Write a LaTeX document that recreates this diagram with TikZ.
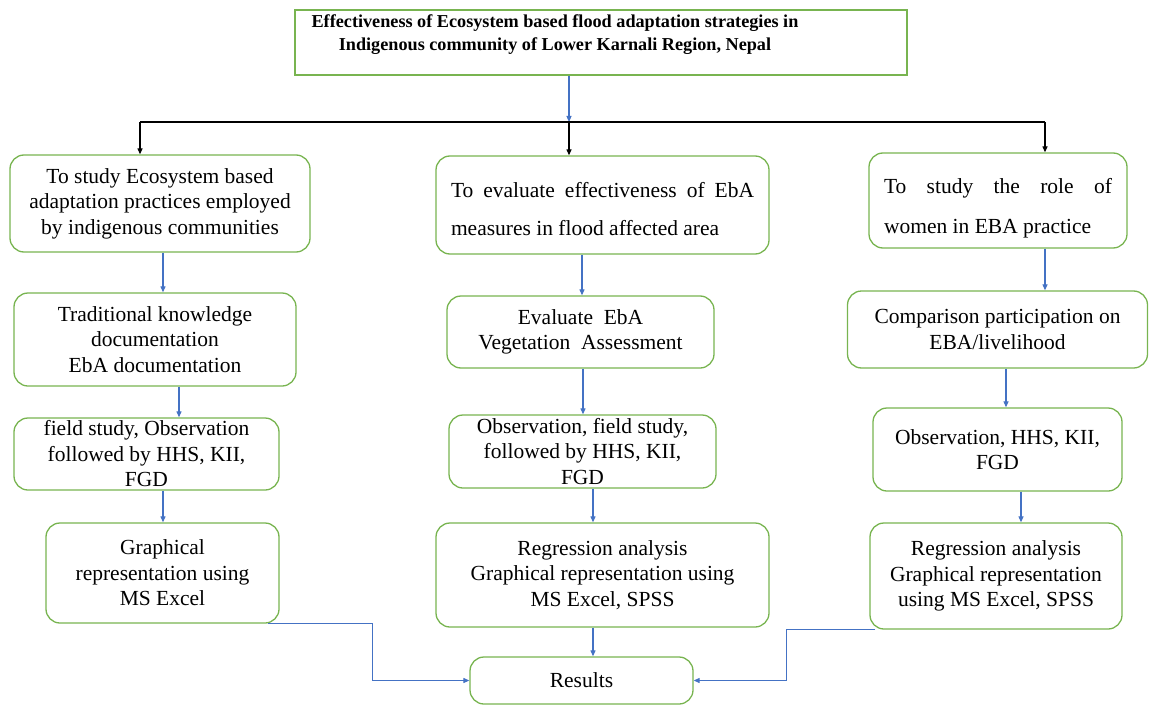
\documentclass[tikz,border=0pt]{standalone}
\usepackage{fontspec}
\setmainfont{Liberation Serif}
\usetikzlibrary{arrows.meta}

\definecolor{boxgreen}{RGB}{120,180,80}
\definecolor{flowblue}{RGB}{68,114,196}

\tikzset{
  stepbox/.style={draw=boxgreen, line width=1.3pt, rounded corners=14pt, inner sep=0pt,
    align=center, font=\fontsize{21.5}{25.5}\selectfont},
  flow/.style={draw=flowblue, line width=1.1pt, -{Triangle[length=6pt,width=5pt]}},
  bus/.style={draw=black, line width=1.2pt},
  busarrow/.style={bus, -{Triangle[length=6pt,width=5pt]}}
}

\begin{document}
\begin{tikzpicture}[x=1pt, y=-1pt]
\useasboundingbox (0,0) rectangle (1150,706);

% title
\node[draw=boxgreen, line width=1.3pt, inner sep=0pt, minimum width=612, minimum height=65] (title) at (601,42.5) {};
\node[align=center, inner sep=0pt, font=\bfseries\fontsize{18.2}{23}\selectfont] (titletext) at ([xshift=-46,yshift=7.5]title.center)
  {Effectiveness of Ecosystem based flood adaptation strategies in\\Indigenous community of Lower Karnali Region, Nepal};

% objectives
\node[stepbox, minimum width=300, minimum height=97] (l1) at (160,203.5)
  {To study Ecosystem based\\adaptation practices employed\\by indigenous communities};
\node[stepbox, minimum width=333, minimum height=98, align=left, font=\fontsize{21.5}{38}\selectfont] (m1) at (602.5,205)
  {\rule{0pt}{24pt}\makebox[303pt][s]{To evaluate effectiveness of EbA}\\measures in flood affected area};
\node[stepbox, minimum width=258, minimum height=95, align=left, font=\fontsize{21.5}{40}\selectfont] (r1) at (998,200.5)
  {\rule{0pt}{31pt}\makebox[228pt][s]{To study the role of}\\women in EBA practice};

% left column
\node[stepbox, minimum width=282, minimum height=93] (l2) at (155,339.5)
  {Traditional knowledge\\documentation\\EbA documentation};
\node[stepbox, minimum width=265, minimum height=72] (l3) at (146.5,454)
  {field study, Observation\\followed by HHS, KII,\\FGD};
\node[stepbox, minimum width=233, minimum height=100] (l4) at (162.5,573)
  {Graphical\\representation using\\MS Excel};

% middle column
\node[stepbox, minimum width=267, minimum height=72] (m2) at (580.5,332)
  {Evaluate\ \ EbA\\Vegetation\ \ Assessment};
\node[stepbox, minimum width=267, minimum height=73] (m3) at (582.5,451.5)
  {Observation, field study,\\followed by HHS, KII,\\FGD};
\node[stepbox, minimum width=333, minimum height=104] (m4) at (602.5,575)
  {Regression analysis\\Graphical representation using\\MS Excel, SPSS};
\node[stepbox, minimum width=223, minimum height=47] (res) at (581.5,680.5) {Results};

% right column
\node[stepbox, minimum width=300, minimum height=77] (r2) at (997.5,329.5)
  {Comparison participation on\\EBA/livelihood};
\node[stepbox, minimum width=249, minimum height=83] (r3) at (997.5,449.5)
  {Observation, HHS, KII,\\FGD};
\node[stepbox, minimum width=252, minimum height=106] (r4) at (996,576)
  {Regression analysis\\Graphical representation\\using MS Excel, SPSS};

% branching
\coordinate (hub) at (569,122);
\coordinate (hubl) at (140,122);
\coordinate (hubr) at (1045,122);
\draw[flow] ([xshift=-32]title.south) -- (hub);
\draw[bus] (hubl) -- (hubr);
\draw[busarrow] (hubl) -- (hubl |- l1.north);
\draw[busarrow] (hub) -- (hub |- m1.north);
\draw[busarrow] (hubr) -- (hubr |- r1.north);

% column arrows
\draw[flow] ([xshift=3]l1.south) -- ([xshift=3]l1.south |- l2.north);
\draw[flow] ([xshift=24]l2.south) -- ([xshift=24]l2.south |- l3.north);
\draw[flow] ([xshift=16.5]l3.south) -- ([xshift=16.5]l3.south |- l4.north);
\draw[flow] ([xshift=-20.5]m1.south) -- ([xshift=-20.5]m1.south |- m2.north);
\draw[flow] ([xshift=2.5]m2.south) -- ([xshift=2.5]m2.south |- m3.north);
\draw[flow] ([xshift=10.5]m3.south) -- ([xshift=10.5]m3.south |- m4.north);
\draw[flow] ([xshift=-9.5]m4.south) -- ([xshift=-9.5]m4.south |- res.north);
\draw[flow] ([xshift=47]r1.south) -- ([xshift=47]r1.south |- r2.north);
\draw[flow] ([xshift=8.5]r2.south) -- ([xshift=8.5]r2.south |- r3.north);
\draw[flow] ([xshift=23.5]r3.south) -- ([xshift=23.5]r3.south |- r4.north);

% to results
\draw[flow] ([xshift=-12]l4.south east) -- ++(105,0) |- (res.west);
\draw[flow] ([xshift=6]r4.south west) -- ++(-89,0) |- (res.east);
\end{tikzpicture}
\end{document}
